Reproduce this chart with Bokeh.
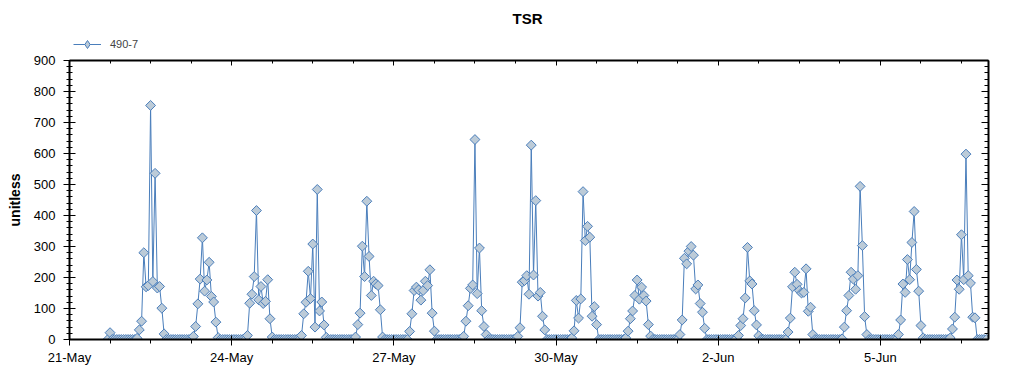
from datetime import datetime, timedelta
import numpy as np
from bokeh.plotting import figure
from bokeh.layouts import column
from bokeh.models import (Range1d, FixedTicker, LinearAxis, DatetimeAxis, Legend,
                          LegendItem, ColumnDataSource, Label)
from bokeh.embed import file_html
from bokeh.resources import INLINE

# ---- data (hourly TSR values, unitless) ----
series_name = "490-7"
title_text = "TSR"
y_label = "unitless"
first_time = datetime(2013, 5, 21, 17)   # first hourly sample

may21 = [0, 22, 0, 0, 0, 0, 0]  # 17:00 - 23:00
may22 = [0, 0, 0, 0, 0, 0, 4, 31, 59, 280, 170, 174, 755, 187, 536, 166, 171, 101, 18, 0, 0, 0, 0, 0]
may23 = [0, 0, 0, 0, 0, 0, 0, 10, 42, 115, 195, 328, 156, 192, 249, 139, 121, 56, 6, 0, 0, 0, 0, 0]
may24 = [0, 0, 0, 0, 0, 0, 0, 13, 117, 146, 203, 416, 128, 171, 116, 123, 193, 67, 8, 0, 0, 0, 0, 0]
may25 = [0, 0, 0, 0, 0, 0, 0, 13, 83, 120, 220, 132, 308, 40, 484, 92, 121, 47, 7, 0, 0, 0, 0, 0]
may26 = [0, 0, 0, 0, 0, 0, 0, 8, 48, 85, 301, 203, 446, 268, 142, 188, 179, 174, 96, 8, 0, 0, 0, 0]
may27 = [0, 0, 0, 0, 0, 0, 0, 26, 83, 158, 169, 160, 127, 158, 188, 174, 225, 85, 27, 0, 0, 0, 0, 0]
may28 = [0, 0, 0, 0, 0, 0, 0, 10, 59, 109, 165, 176, 645, 148, 295, 93, 42, 16, 0, 0, 0, 0, 0, 0]
may29 = [0, 0, 0, 0, 0, 0, 0, 10, 38, 185, 190, 206, 146, 627, 208, 448, 140, 152, 75, 31, 0, 0, 0, 0]
may30 = [0, 0, 0, 0, 0, 0, 0, 5, 28, 126, 69, 131, 477, 319, 365, 330, 75, 106, 48, 0, 0, 0, 0, 0]
may31 = [0, 0, 0, 0, 0, 0, 0, 5, 27, 67, 92, 142, 192, 130, 169, 142, 124, 48, 11, 0, 0, 0, 0, 0]
jun01 = [0, 0, 0, 0, 0, 0, 0, 16, 63, 262, 244, 285, 300, 272, 163, 176, 116, 88, 36, 0, 0, 0, 0, 0]
jun02 = [0, 0, 0, 0, 0, 0, 0, 0, 3, 13, 45, 67, 134, 297, 189, 179, 93, 47, 12, 0, 0, 0, 0, 0]
jun03 = [0, 0, 0, 0, 0, 0, 0, 24, 69, 170, 217, 178, 158, 150, 152, 228, 91, 104, 16, 0, 0, 0, 0, 0]
jun04 = [0, 0, 0, 0, 0, 0, 0, 2, 40, 93, 142, 217, 195, 162, 206, 494, 303, 74, 16, 0, 0, 0, 0, 0]
jun05 = [0, 0, 0, 0, 0, 0, 0, 0, 16, 63, 179, 152, 258, 193, 313, 413, 226, 156, 45, 5, 0, 0, 0, 0]
jun06 = [0, 0, 0, 0, 0, 0, 0, 5, 34, 72, 192, 162, 338, 193, 598, 206, 182, 72, 70, 0, 0, 0, 0, 0]

tick_dates = [datetime(2013, 5, 21), datetime(2013, 5, 24), datetime(2013, 5, 27),
              datetime(2013, 5, 30), datetime(2013, 6, 2), datetime(2013, 6, 5)]
tick_labels = ["21-May", "24-May", "27-May", "30-May", "2-Jun", "5-Jun"]
y_ticks = [0, 100, 200, 300, 400, 500, 600, 700, 800, 900]

# ---- assemble ----
values = (may21 + may22 + may23 + may24 + may25 + may26 + may27 + may28 + may29 +
          may30 + may31 + jun01 + jun02 + jun03 + jun04 + jun05 + jun06)
times = [first_time + timedelta(hours=i) for i in range(len(values))]
src = ColumnDataSource(dict(t=times, v=values))

def ms(d):
    return (d - datetime(1970, 1, 1)).total_seconds() * 1000.0

x_start = datetime(2013, 5, 21)
x_end = datetime(2013, 6, 7)
major_x = [ms(d) for d in tick_dates]
minor_x = []
d = x_start
while d <= x_end:
    minor_x.append(ms(d))
    d += timedelta(hours=18)
minor_y = list(range(0, 901, 20))

FONT = "Liberation Sans"
LINE = "#4A7EBB"
FILL = "#BCCBD8"
MSIZE = 7
HEAD_H = 52
BL, BR = 69, 36   # left / right borders of the plotting frame

# ---- header: title + legend (frame aligned with the main chart's frame) ----
head = figure(width=1024, height=HEAD_H, x_range=Range1d(BL, 1024 - BR),
              y_range=Range1d(0, HEAD_H),
              output_backend="svg", toolbar_location=None,
              x_axis_location=None, y_axis_location=None,
              min_border_left=BL, min_border_right=BR, min_border_top=0, min_border_bottom=0)
head.grid.visible = False
head.outline_line_color = None
head.add_layout(Label(x=527, y=HEAD_H - 18, text=title_text, text_align="center",
                     text_baseline="middle", text_font=FONT, text_font_size="15px",
                     text_font_style="bold", text_color="black"))
lg_line = head.line(x=[-50, -40], y=[-50, -40], line_color=LINE, line_width=1)
lg_pts = head.scatter(x=[-50], y=[-50], marker="diamond", size=MSIZE,
                      fill_color=FILL, line_color=LINE, line_width=1)
legend = Legend(items=[LegendItem(label=series_name, renderers=[lg_line, lg_pts])],
                orientation="horizontal", location=(4, -2),
                border_line_alpha=0, background_fill_alpha=0,
                glyph_width=28, glyph_height=20, label_standoff=9,
                label_text_font=FONT, label_text_font_size="11px",
                padding=0, margin=0, spacing=0)
head.add_layout(legend)

# ---- main chart ----
p = figure(width=1024, height=375 - HEAD_H, x_axis_type="datetime",
           x_range=Range1d(ms(x_start), ms(x_end)), y_range=Range1d(0, 900),
           output_backend="svg", toolbar_location=None,
           min_border_left=BL, min_border_right=BR, min_border_top=60 - HEAD_H,
           min_border_bottom=36,
           background_fill_color="white", border_fill_color="white")
p.xgrid.visible = False
p.ygrid.visible = False
p.outline_line_color = None

p.line("t", "v", source=src, line_color=LINE, line_width=1)
p.scatter("t", "v", source=src, marker="square", angle=np.pi / 4, size=MSIZE,
          fill_color=FILL, line_color=LINE, line_width=1)

xt = FixedTicker(ticks=major_x, minor_ticks=minor_x)
yt = FixedTicker(ticks=y_ticks, minor_ticks=minor_y)

xa = p.xaxis[0]
xa.ticker = xt
xa.major_label_overrides = {t: l for t, l in zip(major_x, tick_labels)}
xa.major_label_text_font = FONT
xa.major_label_text_font_size = "13px"
xa.major_label_text_color = "black"
xa.major_label_standoff = 4
xa.major_tick_in = 4
xa.major_tick_out = 6
xa.minor_tick_in = 0
xa.minor_tick_out = 4
xa.axis_line_width = 2
xa.axis_line_color = "black"
xa.major_tick_line_color = "black"
xa.minor_tick_line_color = "black"

ya = p.yaxis[0]
ya.ticker = yt
ya.axis_label = y_label
ya.axis_label_text_font = FONT
ya.axis_label_text_font_size = "14px"
ya.axis_label_text_font_style = "bold"
ya.axis_label_text_color = "black"
ya.axis_label_standoff = 8
ya.major_label_text_font = FONT
ya.major_label_text_font_size = "13px"
ya.major_label_text_color = "black"
ya.major_label_standoff = 8
ya.major_tick_in = 6
ya.major_tick_out = 6
ya.minor_tick_in = 3
ya.minor_tick_out = 3
ya.axis_line_width = 2
ya.axis_line_color = "black"
ya.major_tick_line_color = "black"
ya.minor_tick_line_color = "black"

top = DatetimeAxis(ticker=xt, major_label_overrides={t: "" for t in major_x},
                   major_label_standoff=0,
                   major_tick_in=5, major_tick_out=0, minor_tick_in=3, minor_tick_out=0,
                   axis_line_width=2, axis_line_color="black")
right = LinearAxis(ticker=yt, major_label_overrides={t: "" for t in y_ticks},
                   major_label_standoff=0,
                   major_tick_in=7, major_tick_out=0, minor_tick_in=4, minor_tick_out=0,
                   axis_line_width=2, axis_line_color="black")
p.add_layout(right, "right")
p.add_layout(top, "above")

layout = column(head, p, spacing=0)
open("out.html", "w").write(file_html(layout, INLINE))
